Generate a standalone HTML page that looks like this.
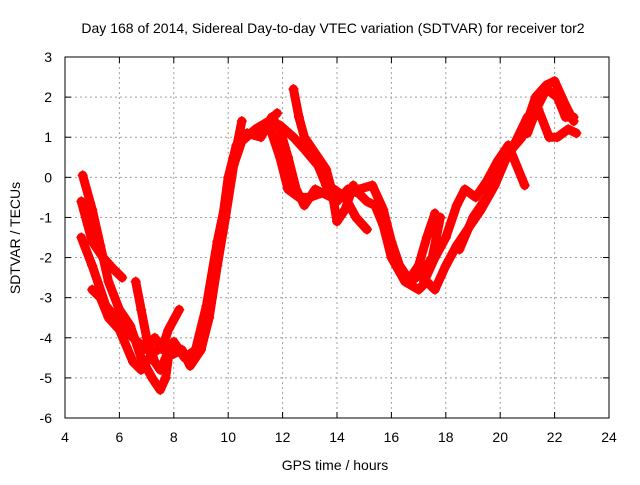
<!DOCTYPE html>
<html><head><meta charset="utf-8"><style>
body{margin:0;background:#fff}
text{font-family:"Liberation Sans",sans-serif;font-size:14px;fill:#000}
</style></head><body>
<svg id="chart" width="640" height="480" xmlns="http://www.w3.org/2000/svg">
<text x="333" y="33" text-anchor="middle">Day 168 of 2014, Sidereal Day-to-day VTEC variation (SDTVAR) for receiver tor2</text>
<g id="grid"></g>
<g id="ticks"></g>
<g id="series"></g>
<rect x="65" y="57" width="544" height="361" fill="none" stroke="#000" stroke-width="1"/>
<text x="335" y="470" text-anchor="middle">GPS time / hours</text>
<text transform="translate(20,238) rotate(-90)" text-anchor="middle">SDTVAR / TECUs</text>
</svg>
<script>
const xTicks=[4,6,8,10,12,14,16,18,20,22,24];
const yTicks=[-6,-5,-4,-3,-2,-1,0,1,2,3];
const track1=[[4.65,0.05],[5.0,-0.8],[5.3,-1.7],[5.6,-2.6],[6.0,-3.3],[6.4,-3.7],[6.8,-4.5],[7.2,-5.0],[7.5,-5.3],[7.7,-5.0],[7.8,-4.5],[8.0,-4.2]];
const track2=[[4.6,-0.6],[5.0,-1.6],[5.4,-2.0],[5.8,-2.3],[6.1,-2.5]];
const track3=[[4.6,-1.5],[5.0,-2.2],[5.5,-3.2],[6.0,-3.6],[6.5,-4.0],[7.0,-4.3],[7.3,-4.0],[7.6,-4.3],[8.0,-4.4],[8.3,-4.3],[8.6,-4.7],[9.0,-4.3],[9.3,-3.5],[9.6,-2.2],[9.9,-1.0],[10.2,0.3],[10.5,0.9],[11.0,1.2],[11.5,1.4],[11.8,1.6]];
const track4=[[5.0,-2.8],[5.3,-3.0],[5.6,-3.5],[6.0,-3.8],[6.5,-4.6],[6.8,-4.8],[7.2,-4.4],[7.6,-4.2],[7.8,-3.8],[8.2,-3.3]];
const track5=[[6.6,-2.6],[6.8,-3.3],[7.0,-4.0],[7.3,-4.6],[7.5,-4.8],[7.7,-4.5],[8.0,-4.1],[8.4,-4.5],[8.8,-4.3],[9.2,-3.2],[9.6,-1.6],[10.0,-0.3],[10.5,1.4]];
const track6=[[9.0,-4.0],[9.4,-3.0],[9.7,-1.5],[10.0,0.0],[10.3,0.8],[10.7,1.1],[11.2,1.0],[11.6,1.5],[11.9,1.2],[12.2,0.5],[12.5,-0.3],[12.8,-0.7],[13.2,-0.3],[13.8,-0.5],[14.3,-0.4],[14.8,-0.3],[15.3,-0.2],[15.7,-0.8],[16.0,-1.6],[16.3,-2.2],[16.7,-2.6],[17.1,-2.4],[17.5,-2.0],[17.8,-1.0]];
const track7=[[11.9,1.3],[12.4,1.0],[12.8,0.7],[13.3,0.3],[13.6,-0.2],[14.0,-0.6],[14.4,-0.3],[14.8,-0.4],[15.1,-0.6],[15.4,-0.7],[15.7,-1.2],[16.0,-2.0],[16.5,-2.6],[17.0,-2.8],[17.3,-2.6],[17.6,-2.8],[18.0,-2.2],[18.4,-1.7],[18.8,-1.3],[19.3,-0.8],[19.8,-0.2],[20.3,0.6],[20.8,1.0],[21.3,2.0],[21.7,2.3],[22.0,2.4],[22.4,1.8],[22.7,1.4]];
const track8=[[12.4,2.2],[12.6,1.5],[12.8,1.0],[13.2,0.6],[13.6,0.2],[13.8,-0.3],[14.0,-1.1],[14.3,-0.8],[14.6,-0.2]];
const track9=[[11.5,1.3],[11.9,0.5],[12.2,-0.3],[12.6,-0.5],[13.0,-0.5],[13.4,-0.4],[13.9,-0.3],[14.3,-0.5],[14.7,-1.0],[15.1,-1.3]];
const track10=[[16.6,-2.6],[17.0,-2.2],[17.3,-1.5],[17.6,-0.9]];
const track11=[[17.2,-2.6],[17.6,-2.0],[18.0,-1.5],[18.4,-0.7],[18.7,-0.3],[19.1,-0.5],[19.5,-0.1],[19.9,0.4],[20.3,0.8],[20.6,0.3],[20.9,-0.2]];
const track12=[[18.5,-1.8],[19.0,-1.0],[19.5,-0.5],[20.0,0.2],[20.5,0.8],[21.0,1.5],[21.4,1.7],[21.8,1.0],[22.1,1.0],[22.5,1.2],[22.8,1.1]];
const track13=[[21.0,1.1],[21.4,1.8],[21.7,2.2],[22.1,2.0],[22.4,1.5],[22.7,1.5]];
const tracks=[track1,track2,track3,track4,track5,track6,track7,track8,track9,track10,track11,track12,track13];
const NS="http://www.w3.org/2000/svg";
const X0=65,X1=609,Y0=418,Y1=57;
function sx(h){return X0+(h-4)/(24-4)*(X1-X0);}
function sy(v){return Y0-(v+6)/(3+6)*(Y0-Y1);}
function mk(t,a,p){const e=document.createElementNS(NS,t);for(const k in a)e.setAttribute(k,a[k]);p.appendChild(e);return e;}
const grid=document.getElementById('grid'),ticks=document.getElementById('ticks'),series=document.getElementById('series');
xTicks.forEach(t=>{const x=sx(t);
 if(t>4&&t<24){const g=mk('line',{x1:x,x2:x,y1:Y1,y2:Y0,stroke:'#a0a0a0','stroke-dasharray':'2,3'},grid);
 
 }
 const l=mk('text',{x:x,y:442,'text-anchor':'middle'},ticks);l.textContent=t;
 
 
 mk('line',{x1:x,x2:x,y1:Y0,y2:Y0-6,stroke:'#000'},ticks);mk('line',{x1:x,x2:x,y1:Y1,y2:Y1+6,stroke:'#000'},ticks);});
yTicks.forEach(t=>{const y=sy(t);
 if(t>-6&&t<3){const g=mk('line',{x1:X0,x2:X1,y1:y,y2:y,stroke:'#a0a0a0','stroke-dasharray':'2,3'},grid);
 
 }
 const l=mk('text',{x:52,y:y+5,'text-anchor':'end'},ticks);l.textContent=t;
 
 
 mk('line',{x1:X0,x2:X0+6,y1:y,y2:y,stroke:'#000'},ticks);mk('line',{x1:X1,x2:X1-6,y1:y,y2:y,stroke:'#000'},ticks);});
tracks.forEach((tr,i)=>{
 const pl=mk('polyline',{points:tr.map(p=>sx(p[0])+','+sy(p[1])).join(' '),fill:'none',stroke:'#ff0000','stroke-width':9,'stroke-linejoin':'round','stroke-linecap':'round'},series);
 
 
 tr.forEach(p=>{const x=sx(p[0]),y=sy(p[1]);
  const m=mk('path',{d:`M${x-5},${y}H${x+5}M${x},${y-5}V${y+5}`,stroke:'#ff0000','stroke-width':1.5},series);
  
  });
});
</script>
</body></html>
